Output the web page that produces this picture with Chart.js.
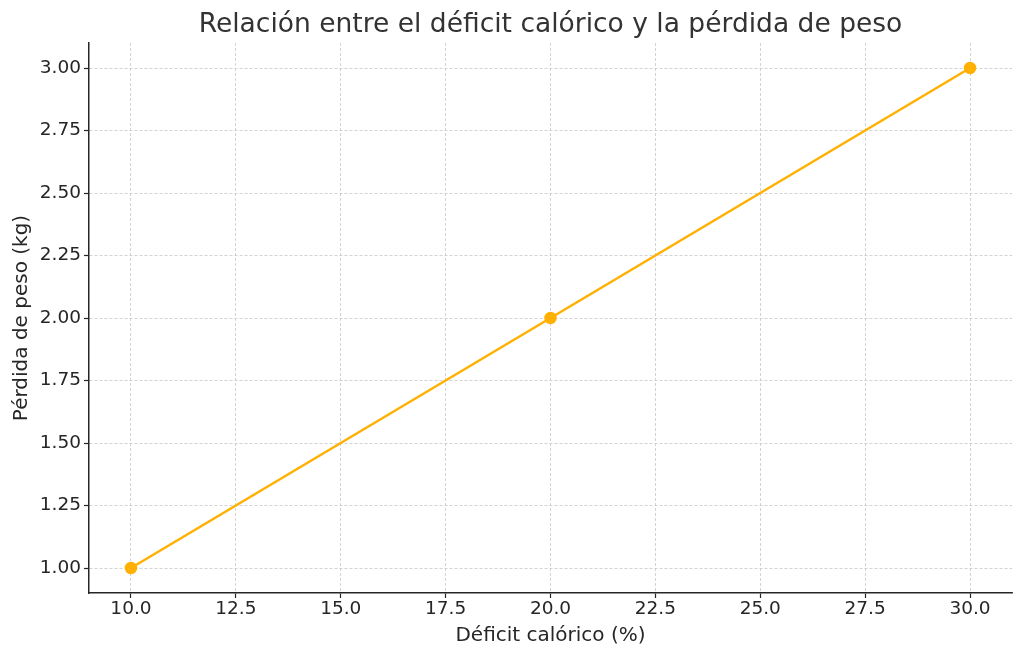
<!DOCTYPE html>
<html>
<head>
<meta charset="utf-8">
<script src="https://cdn.jsdelivr.net/npm/chart.js@4"></script>
<style>
  html, body { margin: 0; padding: 0; background: #fff; }
  #wrap { width: 1024px; height: 657px; }
</style>
</head>
<body>
<div id="wrap"><canvas id="chart"></canvas></div>
<script>
const deficit = [10, 20, 30];
const perdida = [1, 2, 3];
const titulo = 'Relación entre el déficit calórico y la pérdida de peso';

const points = deficit.map((x, i) => ({ x: x, y: perdida[i] }));

// title centred over the plot area, like matplotlib does
const plotTitle = {
    id: 'plotTitle',
    afterDraw(chart) {
        const c = chart.ctx;
        const a = chart.chartArea;
        c.save();
        c.fillStyle = '#333333';
        c.font = '26.5px "DejaVu Sans"';
        c.textAlign = 'center';
        c.textBaseline = 'middle';
        c.fillText(titulo, (a.left + a.right) / 2, 25.5);
        c.restore();
    }
};

const tickFont = { family: 'DejaVu Sans', size: 18.5 };
const labelFont = { family: 'DejaVu Sans', size: 20 };

const ctx = document.getElementById('chart').getContext('2d');
new Chart(ctx, {
    type: 'scatter',
    data: {
        datasets: [{
            data: points,
            showLine: true,
            borderColor: '#ffb000',
            backgroundColor: '#ffb000',
            borderWidth: 2.5,
            pointRadius: 5,
            pointHoverRadius: 5
        }]
    },
    options: {
        responsive: true,
        maintainAspectRatio: false,
        animation: false,
        layout: { padding: { left: 0, right: 12, top: 43, bottom: 0 } },
        plugins: {
            legend: { display: false },
            tooltip: { enabled: false },
            title: { display: false }
        },
        scales: {
            x: {
                type: 'linear',
                min: 9,
                max: 31,
                afterFit: s => { s.height = 64; },
                ticks: {
                    stepSize: 2.5,
                    includeBounds: false,
                    color: '#262626',
                    padding: 0,
                    font: tickFont,
                    callback: v => v.toFixed(1)
                },
                grid: {
                    color: '#c8c8c8',
                    lineWidth: 0.8,
                    tickLength: 5,
                    tickColor: '#262626',
                    tickWidth: 1.2
                },
                border: { display: true, color: '#262626', width: 1.5, dash: [3, 2] },
                title: {
                    display: true,
                    text: 'Déficit calórico (%)',
                    color: '#262626',
                    font: labelFont,
                    padding: { top: 0, bottom: 9 }
                }
            },
            y: {
                type: 'linear',
                min: 0.9,
                max: 3.1,
                afterFit: s => { s.width = 89; },
                ticks: {
                    stepSize: 0.25,
                    includeBounds: false,
                    color: '#262626',
                    padding: 3,
                    font: tickFont,
                    callback: v => v.toFixed(2)
                },
                grid: {
                    color: '#c8c8c8',
                    lineWidth: 0.8,
                    tickLength: 5,
                    tickColor: '#262626',
                    tickWidth: 1.2
                },
                border: { display: true, color: '#262626', width: 1.5, dash: [3, 2] },
                title: {
                    display: true,
                    text: 'Pérdida de peso (kg)',
                    color: '#262626',
                    font: labelFont,
                    padding: { top: 10, bottom: 0 }
                }
            }
        }
    },
    plugins: [plotTitle]
});
</script>
</body>
</html>
